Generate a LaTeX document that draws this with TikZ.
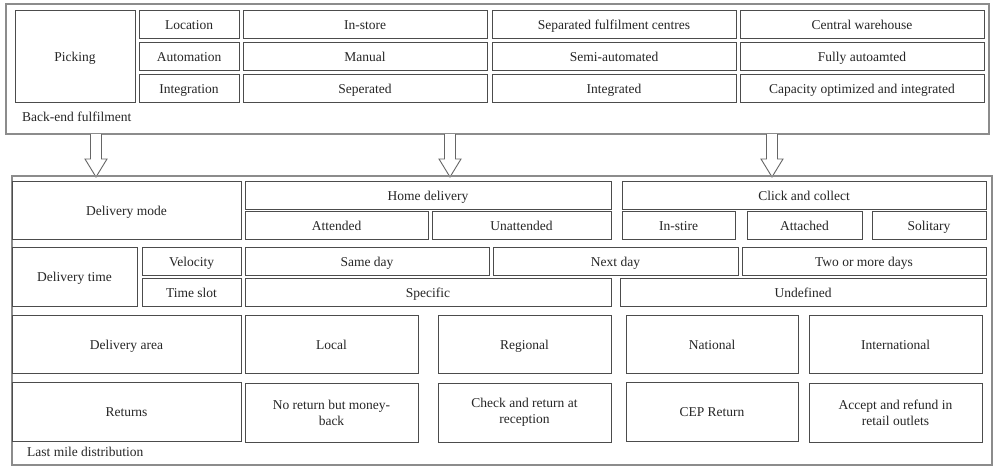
\documentclass[tikz,border=0pt]{standalone}
\usepackage{fontspec}
\setmainfont{Liberation Serif}
\begin{document}
\begin{tikzpicture}[x=1pt,y=-1pt,
  cellbox/.style={draw=black!70,line width=1pt,fill=white,inner sep=0pt,
    align=center,text=black!85,font=\fontsize{13.5}{16}\selectfont},
  oneline/.style={text height=11pt,text depth=2pt},
  groupbox/.style={draw=black!45,line width=1.4pt},
  caption/.style={anchor=west,inner sep=0pt,text=black!85,font=\fontsize{13.5}{16}\selectfont,
    text height=11pt,text depth=2pt},
  hollow/.style={draw=black!60,line width=0.9pt,fill=white,line join=miter}]
\useasboundingbox (0,0) rectangle (994,466);
% single-line cell given by its corners: name, x1, y1, x2, y2, text
\newcommand\cell[6]{%
  \node[cellbox,oneline,minimum width=#4-#2,minimum height=#5-#3] (#1) at ({(#2+#4)/2},{(#3+#5)/2+0.5}) {#6};}
% two-line cell
\newcommand\tcell[6]{%
  \node[cellbox,minimum width=#4-#2,minimum height=#5-#3] (#1) at ({(#2+#4)/2},{(#3+#5)/2+1}) {#6};}

% back-end fulfilment block
\draw[groupbox] (6,4) rectangle (989,134);
\node[caption] (backlbl) at (22,117) {Back-end fulfilment};
\cell{picking}{15}{10}{135}{102}{Picking}
\cell{location}{139}{10}{239}{38}{Location}
\cell{automation}{139}{42}{239}{70}{Automation}
\cell{integration}{139}{74}{239}{102}{Integration}
\cell{instore}{243}{10}{487}{38}{In-store}
\cell{manual}{243}{42}{487}{70}{Manual}
\cell{seperated}{243}{74}{487}{102}{Seperated}
\cell{sepcentres}{492}{10}{736}{38}{Separated fulfilment centres}
\cell{semiauto}{492}{42}{736}{70}{Semi-automated}
\cell{integrated}{492}{74}{736}{102}{Integrated}
\cell{central}{740}{10}{984}{38}{Central warehouse}
\cell{fullyauto}{740}{42}{984}{70}{Fully autoamted}
\cell{capacity}{740}{74}{984}{102}{Capacity optimized and integrated}

% hollow arrows between the two blocks
\foreach \ax in {96,450,772}{
  \draw[hollow] (\ax-5.5,134) -- (\ax-5.5,159) -- (\ax-11,159) -- (\ax,177)
    -- (\ax+11,159) -- (\ax+5.5,159) -- (\ax+5.5,134);
}

% last mile distribution block
\draw[groupbox] (12,176) rectangle (992,465);
\node[caption] (lastlbl) at (27,452) {Last mile distribution};
\cell{mode}{12}{181}{241}{239}{Delivery mode}
\cell{home}{245}{181}{611}{209}{Home delivery}
\cell{attended}{245}{211}{428}{239}{Attended}
\cell{unattended}{432}{211}{611}{239}{Unattended}
\cell{click}{622}{181}{986}{209}{Click and collect}
\cell{instire}{622}{211}{735}{239}{In-stire}
\cell{attached}{747}{211}{862}{239}{Attached}
\cell{solitary}{872}{211}{986}{239}{Solitary}

\cell{time}{12}{247}{137}{306}{Delivery time}
\cell{velocity}{142}{247}{241}{275}{Velocity}
\cell{timeslot}{142}{278}{241}{306}{Time slot}
\cell{sameday}{245}{247}{489}{275}{Same day}
\cell{nextday}{493}{247}{738}{275}{Next day}
\cell{twomore}{742}{247}{986}{275}{Two or more days}
\cell{specific}{245}{278}{611}{306}{Specific}
\cell{undefined}{620}{278}{986}{306}{Undefined}

\cell{area}{12}{315}{241}{373}{Delivery area}
\cell{local}{245}{315}{418}{373}{Local}
\cell{regional}{438}{315}{611}{373}{Regional}
\cell{national}{626}{315}{798}{373}{National}
\cell{international}{809}{315}{982}{373}{International}

\cell{returns}{12}{382}{241}{441}{Returns}
\tcell{noreturn}{245}{382}{418}{441}{No return but money-\\back}
\tcell{check}{438}{382}{611}{441}{Check and return at\\reception}
\cell{cep}{626}{382}{798}{441}{CEP Return}
\tcell{accept}{809}{382}{982}{441}{Accept and refund in\\retail outlets}
\end{tikzpicture}
\end{document}
